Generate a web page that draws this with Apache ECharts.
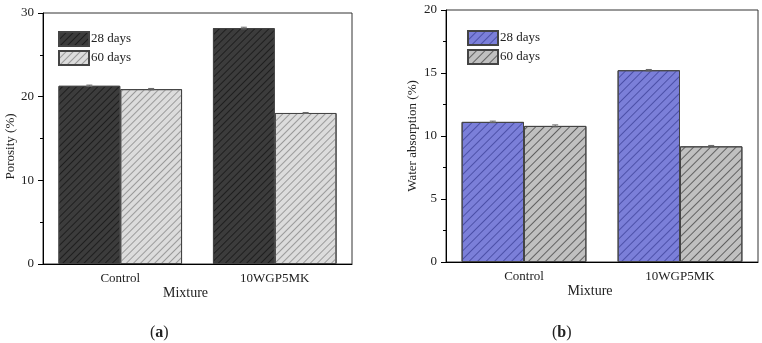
<!DOCTYPE html>
<html><head><meta charset="utf-8">
<script src="https://cdn.jsdelivr.net/npm/echarts@6/dist/echarts.min.js"></script>
<style>html,body{margin:0;padding:0;background:#fff}#c{width:762px;height:343px}</style>
</head><body><div id="c"></div><script>
const categories = ['Control', '10WGP5MK'];
const seriesNames = ['28 days', '60 days'];
const porosity28 = [21.3, 28.2];
const porosity60 = [20.9, 18.05];
const porosityErr28 = [0.08, 0.1];
const porosityErr60 = [0.08, 0.06];
const absorption28 = [11.12, 15.22];
const absorption60 = [10.8, 9.18];
const absorptionErr28 = [0.06, 0.06];
const absorptionErr60 = [0.08, 0.07];
const porosityTicks = {min: 0, max: 30, interval: 10};
const absorptionTicks = {min: 0, max: 20, interval: 5};

const FONT = 'Liberation Serif';
const chart = echarts.init(document.getElementById('c'));

function hatch(lineColor, gap) {
  return {
    symbol: 'rect', symbolSize: 1, color: lineColor,
    dashArrayX: [1, 0], dashArrayY: [1, gap], rotation: -Math.PI / 4
  };
}
function barSeries(name, data, xi, fill, line, gap) {
  return {
    type: 'bar', name: name, data: data, xAxisIndex: xi, yAxisIndex: xi,
    barGap: '0%', barCategoryGap: '20%',
    itemStyle: {color: fill, borderColor: '#444', borderWidth: 1, decal: hatch(line, gap)},
    emphasis: {disabled: true}
  };
}
function errSeries(vals, errs, xi, side) {
  return {
    type: 'custom', xAxisIndex: xi, yAxisIndex: xi, z: 5, silent: true,
    data: vals.map((v, i) => [i, v, errs[i]]),
    renderItem: function (params, api) {
      const x = api.value(0), v = api.value(1), e = api.value(2);
      const band = api.size([1, 0])[0];
      const cx = api.coord([x, v])[0] + side * band * 0.2;
      const t = api.coord([x, v + e])[1], b = api.coord([x, v - e])[1];
      const st = {stroke: '#666', lineWidth: 1};
      return {type: 'group', children: [
        {type: 'line', shape: {x1: cx, y1: t, x2: cx, y2: b}, style: st},
        {type: 'line', shape: {x1: cx - 3, y1: t, x2: cx + 3, y2: t}, style: st},
        {type: 'line', shape: {x1: cx - 3, y1: b, x2: cx + 3, y2: b}, style: st}
      ]};
    }
  };
}
function xAxisDef(gi) {
  return {
    type: 'category', gridIndex: gi, data: categories,
    name: 'Mixture', nameLocation: 'middle', nameGap: 22, nameMoveOverlap: false,
    nameTextStyle: {fontFamily: FONT, fontSize: 14, color: '#222', padding: [0, 24, 0, 0]},
    axisLine: {lineStyle: {color: '#000', width: 1}},
    axisTick: {show: false},
    axisLabel: {fontFamily: FONT, fontSize: 13, color: '#222', margin: 8}
  };
}
function yAxisDef(gi, name, ticks, gap, pad) {
  return {
    type: 'value', gridIndex: gi, min: ticks.min, max: ticks.max, interval: ticks.interval,
    name: name, nameLocation: 'middle', nameGap: gap,
    nameTextStyle: {fontFamily: FONT, fontSize: 13, color: '#222', padding: pad},
    axisLine: {show: true, lineStyle: {color: '#000', width: 1}},
    axisTick: {show: true, inside: false, length: 5, lineStyle: {color: '#000'}},
    minorTick: {show: true, splitNumber: 2, length: 3, lineStyle: {color: '#000'}},
    splitLine: {show: false},
    axisLabel: {fontFamily: FONT, fontSize: 13, color: '#222', margin: 9}
  };
}
function legendDef(names, left, top) {
  return {
    data: names.map(n => ({name: n, icon: 'rect'})), left: left, top: top, orient: 'vertical',
    padding: 0, itemWidth: 30, itemHeight: 14, itemGap: 3, selectedMode: false,
    formatter: n => n.trim(),
    textStyle: {fontFamily: FONT, fontSize: 13, color: '#222', padding: [0, 0, 0, -3]}
  };
}
const names2 = seriesNames.map(n => n + ' ');

chart.setOption({
  animation: false,
  title: [
    {text: '({b|a})', left: 145, top: 320, textStyle: {fontFamily: FONT, fontSize: 16, fontWeight: 'normal', color: '#222', rich: {b: {fontFamily: FONT, fontSize: 16, fontWeight: 'bold', color: '#222'}}}},
    {text: '({b|b})', left: 547, top: 320, textStyle: {fontFamily: FONT, fontSize: 16, fontWeight: 'normal', color: '#222', rich: {b: {fontFamily: FONT, fontSize: 16, fontWeight: 'bold', color: '#222'}}}}
  ],
  grid: [
    {left: 43, top: 13, width: 309, height: 251, show: true, borderColor: '#333', borderWidth: 1, backgroundColor: 'transparent'},
    {left: 446, top: 10, width: 312, height: 252, show: true, borderColor: '#333', borderWidth: 1, backgroundColor: 'transparent'}
  ],
  legend: [legendDef(seriesNames, 58, 31), legendDef(names2, 467, 30)],
  xAxis: [xAxisDef(0), xAxisDef(1)],
  yAxis: [yAxisDef(0, 'Porosity (%)', porosityTicks, 24, [0, 16, 0, 0]), yAxisDef(1, 'Water absorption (%)', absorptionTicks, 27, 0)],
  series: [
    barSeries(seriesNames[0], porosity28, 0, '#3c3c3c', '#1e1e1e', 3.4),
    barSeries(seriesNames[1], porosity60, 0, '#dcdcdc', '#9a9a9a', 3.4),
    barSeries(names2[0], absorption28, 1, '#7b7fd9', '#4c50a8', 4.2),
    barSeries(names2[1], absorption60, 1, '#c0c0c0', '#606060', 4.2),
    errSeries(porosity28, porosityErr28, 0, -1),
    errSeries(porosity60, porosityErr60, 0, 1),
    errSeries(absorption28, absorptionErr28, 1, -1),
    errSeries(absorption60, absorptionErr60, 1, 1)
  ]
});
</script></body></html>
